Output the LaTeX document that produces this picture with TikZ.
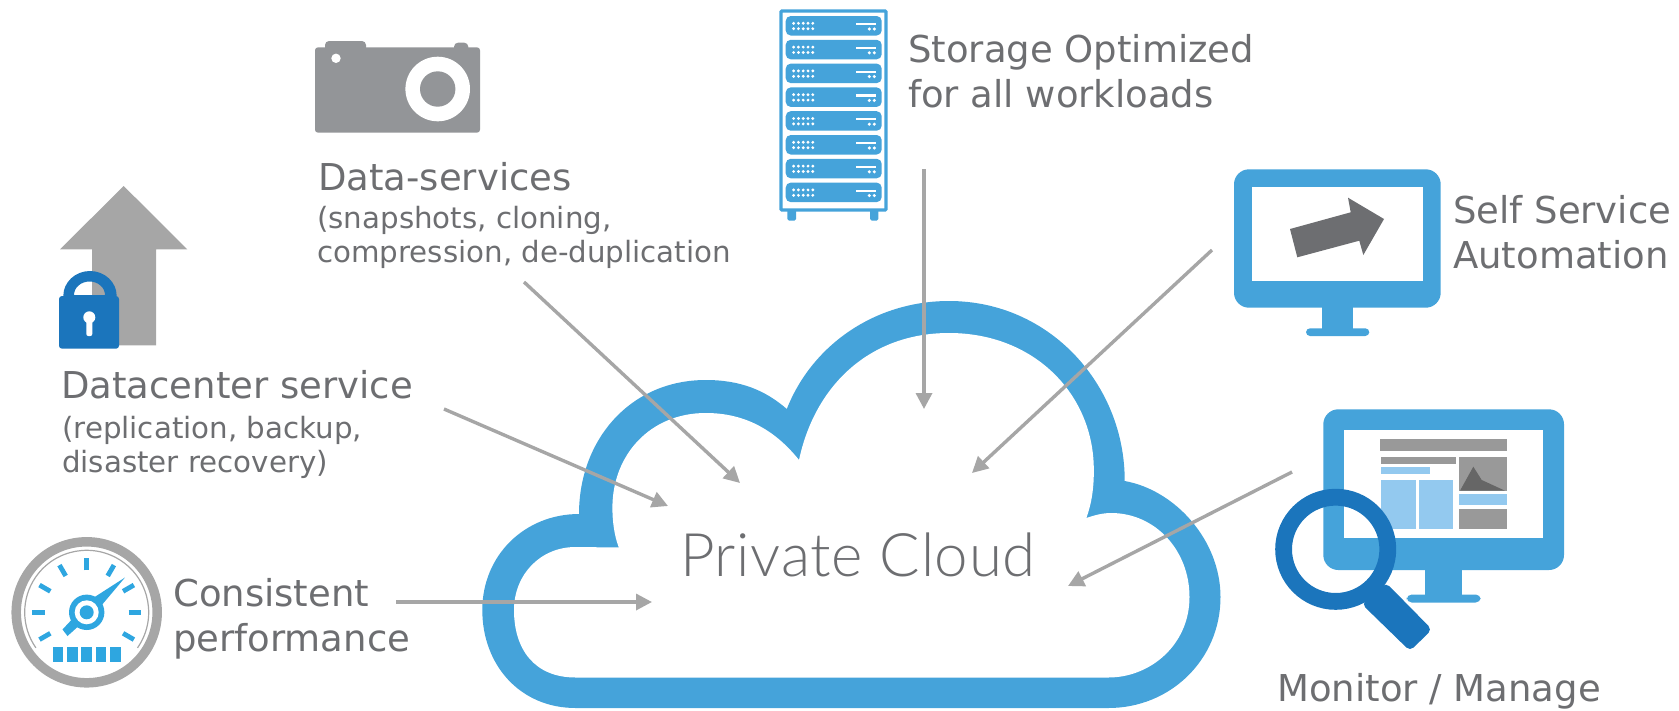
\documentclass[tikz,border=0pt]{standalone}
\usepackage{fontspec}
\setmainfont{DejaVu Sans}
\newfontfamily\cloudfont[LetterSpace=1.1]{Lato Light}
\usetikzlibrary{arrows.meta}
\definecolor{cblue}{HTML}{45A3DA}
\definecolor{dblue}{HTML}{1B75BC}
\definecolor{lblue}{HTML}{93C9EF}
\definecolor{tgray}{HTML}{6D6E71}
\definecolor{agray}{HTML}{A6A6A6}
\definecolor{cgray}{HTML}{939598}
\definecolor{sgray}{HTML}{999999}
\definecolor{gblue}{HTML}{2EA6E0}
\tikzset{
  lab/.style={anchor=base west,inner sep=0pt,text=tgray,align=left,font=\fontsize{37}{45}\selectfont},
  sub/.style={anchor=base west,inner sep=0pt,text=tgray,align=left,font=\fontsize{29.3}{34}\selectfont},
  conn/.style={draw=agray,line width=3.4pt,-{Triangle[length=16pt,width=16pt]}},
  srv/.style={fill=cblue,rounded corners=5pt},
  dot/.style={fill=white}
}
\begin{document}
\begin{tikzpicture}[x=1pt,y=-1pt]
\useasboundingbox (0,0) rectangle (1679,710);
% cloud
\fill[cblue] (575.6,708) .. controls (520,708) and (482.3,665) .. (482.3,610)
 .. controls (482.3,555) and (525,514) .. (579,514)
 .. controls (579,440) and (630,380) .. (705.8,380)
 .. controls (740,380) and (765,390) .. (786.8,409)
 .. controls (812,345) and (875,301) .. (949,301)
 .. controls (1050,301) and (1125,385) .. (1124.7,481)
 .. controls (1175,490) and (1220.5,540) .. (1220.5,597)
 .. controls (1220.5,660) and (1170,708) .. (1108.5,708) -- cycle;
\fill[white] (575.6,677.5) .. controls (535,677.5) and (514,650) .. (514,610)
 .. controls (514,575) and (540,547) .. (575.6,547)
 -- (618.8,547.5)
 .. controls (614,535) and (612.4,520) .. (612.4,507.7)
 .. controls (612.4,455) and (650,413) .. (705.8,413)
 .. controls (745,413) and (775,430) .. (799,460)
 .. controls (815,385) and (870,333) .. (949,333)
 .. controls (1035,333) and (1094,395) .. (1093.8,470)
 .. controls (1094,490) and (1091,505) .. (1086.4,518)
 .. controls (1095,515) and (1103,513) .. (1111,513)
 .. controls (1155,513) and (1189.5,550) .. (1189.5,597)
 .. controls (1189.5,645) and (1150,677.5) .. (1108.5,677.5) -- cycle;
\node[anchor=base west,inner sep=0pt,text=tgray,font=\cloudfont\fontsize{60}{60}\selectfont] (cloud) at (680,576) {Private Cloud};
% connector ends
\coordinate (a1) at (396,602); \coordinate (b1) at (652,602);
\coordinate (a2) at (444,409); \coordinate (b2) at (668,506);
\coordinate (a3) at (524,282); \coordinate (b3) at (740,483);
\coordinate (a4) at (924,169); \coordinate (b4) at (924,409);
\coordinate (a5) at (1212,250); \coordinate (b5) at (972,473);
\coordinate (a6) at (1292,472); \coordinate (b6) at (1068,586);
\foreach \i in {1,...,6} \draw[conn] (a\i) -- (b\i);
% labels
\node[lab] (storage) at (908,107) {Storage Optimized\\for all workloads};
\node[lab] (self) at (1453,268) {Self Service\\Automation};
\node[lab] (dsvc) at (318,190.6) {Data-services};
\node[sub] (dsub) at (317,262) {(snapshots, cloning,\\compression, de-duplication};
\node[lab] (dc) at (61,398) {Datacenter service};
\node[sub] (dcsub) at (62,472) {(replication, backup,\\disaster recovery)};
\node[lab] (perf) at (173,651) {Consistent\\performance};
\node[lab] (mon) at (1277,701.5) {Monitor / Manage};
% gauge
\draw[agray,line width=9.5pt] (86.7,612.3) circle[radius=70.5];
\draw[agray,line width=1.2pt] ({86.7+62*cos(-35)},{612.3-62*sin(-35)}) arc[start angle=35,end angle=-215,radius=62];
\foreach \a in {-30,0,30,60,90,120,150,180,210}
  \draw[gblue,line width=4.8pt] ({86.7+42*cos(\a)},{612.3-42*sin(\a)}) -- ({86.7+54.5*cos(\a)},{612.3-54.5*sin(\a)});
\foreach \x in {52.7,67,81.3,95.7,110} \fill[gblue] (\x,646.7) rectangle ++(10.6,15);
\fill[gblue] (125,577.5) -- (101,606) -- (67.5,636) -- (62.5,629.5) -- (90,600) -- cycle;
\fill[gblue] (86.7,612.3) circle[radius=17.7];
\fill[white] (86.7,612.3) circle[radius=12];
\fill[gblue] (86.7,612.3) circle[radius=7];
% arrow and lock
\fill[agray] (123.7,186) -- (187.3,249.3) -- (156,249.3) -- (156,345.3) -- (92,345.3) -- (92,249.3) -- (60,249.3) -- cycle;
\fill[dblue,even odd rule] (63.3,296) arc[start angle=180,end angle=0,x radius=26.7,y radius=-25] -- cycle
  (74,295) arc[start angle=180,end angle=0,x radius=15.5,y radius=-13.5] -- cycle;
\fill[dblue,rounded corners=3pt] (59,296) rectangle (119,348.7);
\fill[white] (89.3,317.3) circle[radius=6];
\fill[white,rounded corners=2pt] (86.3,318) rectangle (92.3,336);
% camera
\fill[cgray,rounded corners=3pt] (315,47.3) rectangle (480,132.7);
\fill[cgray,rounded corners=4pt] (325,41) rectangle (366,52);
\fill[cgray,rounded corners=4pt] (454,42.7) rectangle (468.3,52);
\fill[white] (336,58.3) circle[radius=4.7];
\fill[white] (437.7,89) circle[radius=32.3];
\fill[cgray] (437.7,89) circle[radius=17.7];
% rack
\fill[cblue,rounded corners=1.5pt] (787.3,205) rectangle (796,220.5);
\fill[cblue,rounded corners=1.5pt] (870,205) rectangle (878.3,220.5);
\draw[cblue,line width=3.4pt,fill=white,rounded corners=1pt] (781,11) rectangle (886,210);
\foreach \k in {0,...,7} {
  \begin{scope}[yshift=-\k*23.8pt]
  \fill[srv] (785.7,16) rectangle (881.7,35.5);
  \foreach \c in {0,...,4} {
    \fill[dot] ({793.6+\c*4.8},23.3) circle[radius=1.6];
    \fill[dot] ({793.6+\c*4.8},28.7) circle[radius=1.6];
  }
  \fill[dot] (855.7,23) rectangle (876,25.2);
  \fill[dot] (869.3,29) circle[radius=1.7];
  \fill[dot] (874.3,29) circle[radius=1.7];
  \end{scope}
}
% self-service monitor
\fill[cblue] (1321.7,300) rectangle (1353.3,332);
\fill[cblue,rounded corners=4pt] (1306,336) -- (1306,328.3) -- (1369.3,328.3) -- (1369.3,336) -- cycle;
\fill[cblue,rounded corners=15pt] (1234,169.3) rectangle (1440.7,307.7);
\fill[white] (1251.7,186.7) rectangle (1423.3,280.7);
\fill[tgray] (1290,229) -- (1350.7,212.3) -- (1348,197.7) -- (1384,219) -- (1363.3,255) -- (1359.3,240.7) -- (1297.3,257.3) -- cycle;
% monitoring monitor
\fill[cblue] (1425,560) rectangle (1461.7,597);
\fill[cblue,rounded corners=5pt] (1406.7,602.5) -- (1406.7,594.5) -- (1480.7,594.5) -- (1480.7,602.5) -- cycle;
\fill[cblue,rounded corners=15pt] (1323.3,409.3) rectangle (1564,570);
\fill[white] (1344,430) rectangle (1542.7,538.3);
\fill[sgray] (1380,438.7) rectangle (1506.7,451);
\fill[sgray] (1381,457.3) rectangle (1455.7,464);
\fill[lblue] (1381,467) rectangle (1430,473.7);
\fill[lblue] (1381,480) rectangle (1415.7,529);
\fill[lblue] (1419,480) rectangle (1453.3,529);
\fill[sgray] (1459.3,457.3) rectangle (1506.7,491.3);
\fill[black!60] (1460,490.7) -- (1473.3,466.7) -- (1481.7,480) -- (1505,490.7) -- cycle;
\fill[lblue] (1459.3,494.3) rectangle (1506.7,505.3);
\fill[sgray] (1459.3,508.7) rectangle (1506.7,529);
% magnifier
\fill[dblue,rounded corners=5pt] (1386,582.7) -- (1432,629.5) -- (1410,651) -- (1361.7,604) -- cycle;
\draw[dblue,line width=16.8pt] (1335.7,549.3) circle[radius=52.1];
\end{tikzpicture}
\end{document}
